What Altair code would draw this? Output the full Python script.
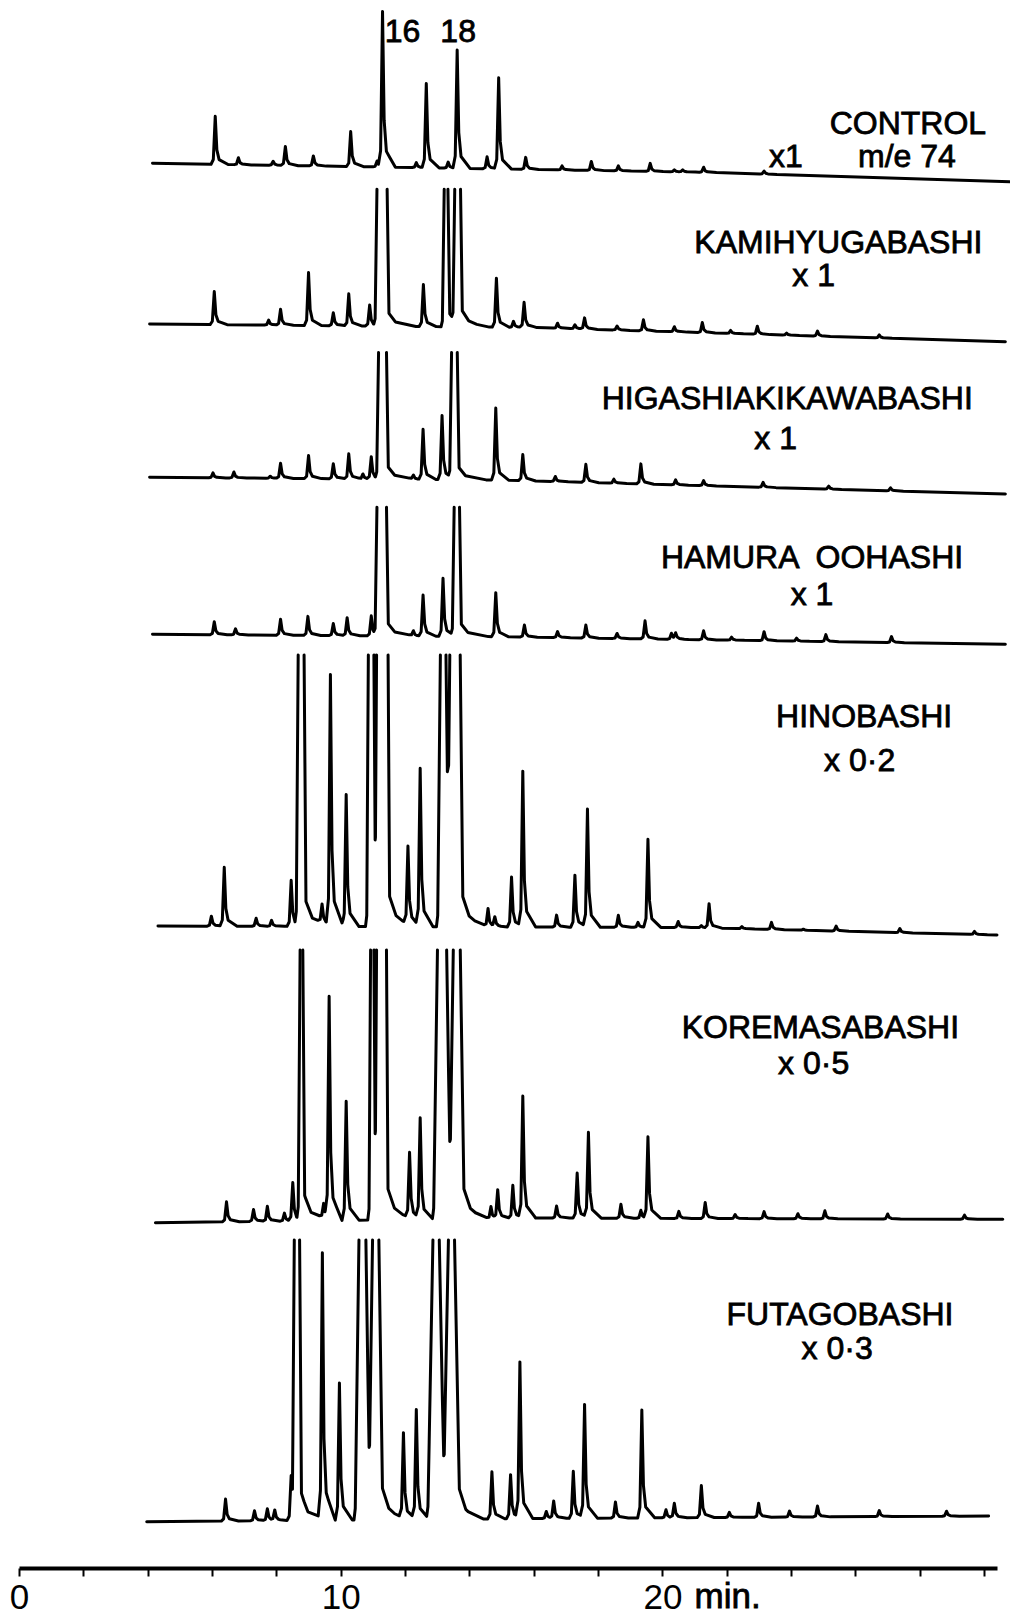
import altair as alt
import pandas as pd

# ------------------------------------------------------------------
# Mass chromatograms (m/e 74) of river-water extracts.
# For every sample:
#   *_t / *_h   : retention time (min) and height of each on-scale peak
#   *_off       : peaks that drive the pen off the top of the chart,
#                 (time pen leaves the top, time it returns, flank width)
#   *_base      : baseline drift knots (time, response level)
#   *_clip      : response level of the chart's top edge for that trace
# ------------------------------------------------------------------

control_t = [6.10, 6.82, 7.90, 8.28, 9.15, 10.31, 11.13, 11.30, 12.35, 12.66, 13.34, 13.62,
             14.55, 14.91, 15.75, 16.88, 17.79, 18.63, 19.62, 20.37, 20.63, 21.28, 23.16]
control_h = [48, 7, 4, 19, 10, 35, 6, 155, 5, 84, 6, 118,
             12, 91, 12, 4, 9, 5, 8, 2, 2, 5, 3]
control_off = []
control_base = [(4.15, 1404.7), (21.4, 1395.7), (30.8, 1386.3)]
control_clip = 1600.0

kami_t = [6.07, 7.76, 8.13, 9.00, 9.77, 10.25, 10.90, 12.57, 14.84, 15.37, 15.70, 16.74,
          17.28, 17.58, 18.59, 19.41, 20.37, 21.24, 22.12, 22.95, 23.86, 24.82, 26.74]
kami_h = [33, 5, 16, 53, 13, 32, 21, 42, 49, 6, 25, 5,
          4, 11, 4, 11, 5, 10, 3, 8, 2, 5, 3]
kami_off = [(11.13, 11.44, 0.06), (13.22, 13.33, 0.06), (13.55, 13.72, 0.06)]
kami_base = [(4.06, 1244.0), (16.0, 1240.5), (30.66, 1226.3)]
kami_clip = 1378.7

higashi_t = [6.03, 6.68, 7.81, 8.13, 9.00, 9.77, 10.25, 10.69, 10.95, 12.26, 12.56, 13.15,
             14.82, 15.66, 16.67, 17.62, 18.49, 19.33, 20.41, 21.28, 23.13, 25.17, 27.09]
higashi_h = [5, 6, 2, 15, 23, 15, 25, 5, 22, 4, 50, 64,
             72, 26, 5, 18, 4, 20, 5, 5, 5, 3, 3]
higashi_off = [(11.18, 11.42, 0.06), (13.45, 13.62, 0.06)]
higashi_base = [(4.06, 1090.7), (15.0, 1088.0), (30.66, 1074.0)]
higashi_clip = 1215.5

hamura_t = [6.07, 6.73, 8.13, 8.98, 9.77, 10.20, 10.95, 12.26, 12.56, 13.18, 14.82, 15.71,
            16.74, 17.62, 18.59, 19.46, 20.28, 20.41, 21.28, 22.15, 23.16, 24.17, 25.08, 27.12]
hamura_h = [13, 6, 16, 19, 12, 18, 20, 5, 41, 58, 44, 12,
            6, 13, 5, 18, 6, 6, 9, 3, 9, 3, 7, 6]
hamura_off = [(11.13, 11.42, 0.06), (13.53, 13.69, 0.06)]
hamura_base = [(4.15, 933.7), (15.0, 931.3), (30.66, 923.7)]
hamura_clip = 1060.7

hino_t = [5.98, 6.38, 7.37, 7.85, 8.46, 9.42, 9.68, 10.17, 12.09, 12.47, 14.58, 14.79,
          15.31, 15.66, 16.71, 17.28, 17.67, 18.63, 19.24, 19.55, 20.49, 21.21, 21.45,
          22.47, 23.39, 24.38, 25.40, 27.38, 29.70]
hino_h = [10, 59, 8, 6, 46, 18, 250, 132, 77, 158, 18, 9,
          50, 155, 12, 52, 118, 12, 5, 88, 6, 2, 24,
          2, 7, 1, 5, 4, 3]
hino_off = [(8.68, 8.86, 0.06), (10.86, 11.03, 0.05), (11.12, 11.47, 0.05),
            (13.10, 13.27, 0.085), (13.40, 13.71, 0.085)]
hino_base = [(4.32, 642.0), (21.0, 640.5), (30.4, 633.0)]
hino_clip = 913.0

korema_t = [6.45, 7.29, 7.72, 8.25, 8.51, 9.47, 9.64, 10.17, 12.14, 12.47, 14.67, 14.88,
            15.35, 15.66, 16.71, 17.35, 17.70, 18.71, 19.33, 19.55, 20.51, 21.33, 22.26,
            23.16, 24.21, 25.05, 27.00, 29.39]
korema_h = [20, 12, 15, 8, 38, 14, 222, 119, 65, 100, 12, 28,
            33, 121, 12, 45, 85, 14, 8, 81, 7, 16, 4,
            7, 5, 8, 5, 4]
korema_off = [(8.74, 8.82, 0.06), (10.93, 11.03, 0.05), (11.12, 11.42, 0.05),
              (13.01, 13.29, 0.12), (13.51, 13.71, 0.12)]
korema_base = [(4.24, 345.3), (16.0, 350.0), (30.58, 348.7)]
korema_clip = 618.0

futago_t = [6.42, 7.32, 7.72, 7.95, 8.46, 9.43, 9.96, 11.95, 12.35, 14.70, 15.28, 15.57,
            16.39, 16.62, 17.23, 17.58, 18.54, 19.36, 20.11, 20.37, 21.21, 22.08, 22.99,
            23.95, 24.82, 26.74, 28.83]
futago_h = [22, 10, 12, 10, 45, 265, 137, 85, 110, 47, 44, 155,
            7, 17, 47, 113, 16, 108, 8, 14, 32, 5, 14,
            6, 11, 6, 5]
futago_off = [(8.56, 8.72, 0.06), (10.57, 10.78, 0.118), (11.00, 11.18, 0.118),
              (12.87, 13.06, 0.158), (13.36, 13.53, 0.158)]
futago_base = [(3.97, 46.3), (16.0, 49.5), (30.14, 52.0)]
futago_clip = 328.0

# sample names and recorder attenuation
sample_names = ["CONTROL", "KAMIHYUGABASHI", "HIGASHIAKIKAWABASHI", "HAMURA\u2002OOHASHI",
                "HINOBASHI", "KOREMASABASHI", "FUTAGOBASHI"]
attenuation = ["x1", "x 1", "x 1", "x 1", "x 0\u00b72", "x 0\u00b75", "x 0\u00b73"]

# ------------------------------------------------------------------
# layout (time, response) of the annotations
# ------------------------------------------------------------------
name_pos = [(27.63, 1434), (25.47, 1315), (23.88, 1159), (24.65, 1000),
            (26.27, 841), (24.91, 530), (25.52, 243)]
atten_pos = [(23.84, 1401), (24.70, 1282), (23.52, 1119), (24.65, 963),
             (26.13, 797), (24.70, 494), (25.43, 209)]
extra_text = [("16", 11.92, 1526), ("18", 13.65, 1526), ("m/e 74", 27.60, 1401)]

T_MAX = 30.4
V_MAX = 1568
FONT = "Liberation Sans"

TRACES = [
    ("control", control_t, control_h, control_off, control_base, control_clip),
    ("kami", kami_t, kami_h, kami_off, kami_base, kami_clip),
    ("higashi", higashi_t, higashi_h, higashi_off, higashi_base, higashi_clip),
    ("hamura", hamura_t, hamura_h, hamura_off, hamura_base, hamura_clip),
    ("hino", hino_t, hino_h, hino_off, hino_base, hino_clip),
    ("korema", korema_t, korema_h, korema_off, korema_base, korema_clip),
    ("futago", futago_t, futago_h, futago_off, futago_base, futago_clip),
]


def piecewise(verts, t, outside=0.0):
    """Linear interpolation through (t, y) vertices; `outside` beyond the ends."""
    if t <= verts[0][0]:
        return verts[0][1] if outside is None else outside
    if t >= verts[-1][0]:
        return verts[-1][1] if outside is None else outside
    for (t0, y0), (t1, y1) in zip(verts, verts[1:]):
        if t0 <= t <= t1:
            return y0 + (y1 - y0) * (t - t0) / (t1 - t0)
    return 0.0


def peak_shape(t, h):
    # rounded foot, sharp apex, tailing back edge
    return [(t - 0.13, 0.0), (t - 0.06, 0.10 * h), (t, h),
            (t + 0.05, 0.30 * h), (t + 0.12, 0.10 * h), (t + 0.40, 0.0)]


def offscale_shape(t_up, t_down, w, top):
    return [(t_up - w - 0.04, 0.0), (t_up - w, 0.04 * top), (t_up, top), (t_down, top),
            (t_down + w, 0.09 * top), (t_down + w + 0.2, 0.03 * top), (t_down + 0.9, 0.0)]


def split_at_clip(pts, clip):
    """Break the pen trace where it runs past the top of the chart."""
    pieces, cur = [], []
    for i, (t, v) in enumerate(pts):
        if i > 0:
            tp, vp = pts[i - 1]
            if vp < clip <= v:
                tc = tp + (clip - vp) * (t - tp) / (v - vp)
                cur.append((tc, clip))
                pieces.append(cur)
                cur = []
            elif v < clip <= vp:
                tc = tp + (clip - vp) * (t - tp) / (v - vp)
                cur = [(tc, clip)]
        if v < clip:
            cur.append((t, v))
    if cur:
        pieces.append(cur)
    return pieces


rows = []
for name, ts, hs, offs, knots, clip in TRACES:
    shapes = [peak_shape(t, h) for t, h in zip(ts, hs)]
    for t_up, t_down, w in offs:
        top = clip - piecewise(knots, t_up, None) + 6
        shapes.append(offscale_shape(t_up, t_down, w, top))
    t_start, t_end = knots[0][0], knots[-1][0]
    grid = {t_start, t_end} | {k[0] for k in knots}
    for s in shapes:
        grid.update(p[0] for p in s)
    grid = sorted(t for t in grid if t_start <= t <= t_end)
    pts = [(t, piecewise(knots, t, None) + sum(piecewise(s, t) for s in shapes)) for t in grid]
    for k, piece in enumerate(split_at_clip(pts, clip)):
        for i, (t, v) in enumerate(piece):
            rows.append({"trace": name, "piece": f"{name}-{k}", "idx": i, "t": t, "v": v})

trace_df = pd.DataFrame(rows)

label_rows = []
for txt, (t, v) in zip(sample_names, name_pos):
    label_rows.append({"text": txt, "t": t, "v": v})
for txt, (t, v) in zip(attenuation, atten_pos):
    label_rows.append({"text": txt, "t": t, "v": v})
for txt, t, v in extra_text:
    label_rows.append({"text": txt, "t": t, "v": v})
label_df = pd.DataFrame(label_rows)

unit_df = pd.DataFrame([{"text": "min.", "t": 21.0, "v": -40}])

x_scale = alt.Scale(domain=[0, T_MAX], nice=False, zero=False)
y_scale = alt.Scale(domain=[0, V_MAX], nice=False, zero=False)

time_axis = alt.Axis(
    values=list(range(0, 31, 2)),
    labelExpr="datum.value % 10 === 0 && datum.value < 30 ? datum.label : ''",
    title=None, grid=False,
    domainColor="black", domainWidth=4,
    tickColor="black", tickWidth=2, tickSize=8,
    labelFont=FONT, labelFontSize=35, labelColor="black",
    labelPadding=4, labelFlush=False, labelOverlap=False, labelAngle=0,
)

x_enc = alt.X("t:Q", scale=x_scale, axis=time_axis)
y_enc = alt.Y("v:Q", scale=y_scale, axis=None)

traces = alt.Chart(trace_df).mark_line(
    color="black", strokeWidth=3.0, strokeJoin="round", strokeCap="round"
).encode(
    x=x_enc,
    y=y_enc,
    detail="piece:N",
    order="idx:Q",
)

labels = alt.Chart(label_df).mark_text(
    font=FONT, fontSize=32, color="black", align="center", baseline="alphabetic",
    stroke="black", strokeWidth=0.8,
).encode(
    x=x_enc,
    y=y_enc,
    text="text:N",
)

unit = alt.Chart(unit_df).mark_text(
    font=FONT, fontSize=35, color="black", align="left", baseline="alphabetic",
    stroke="black", strokeWidth=0.8,
).encode(
    x=x_enc,
    y=y_enc,
    text="text:N",
)

chart = alt.layer(traces, labels, unit).properties(
    width=978,
    height=V_MAX,
    padding={"left": 19, "right": 13, "top": 0, "bottom": 46},
    autosize=alt.AutoSizeParams(type="none"),
    background="white",
).configure_view(stroke=None)

chart.save("out.html", embed_options={"renderer": "svg", "actions": False})
